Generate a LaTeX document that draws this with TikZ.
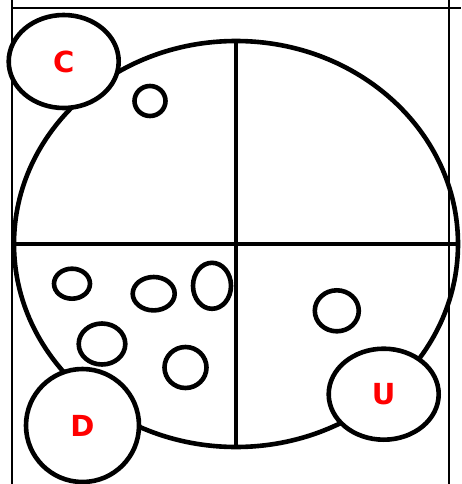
\documentclass[tikz,border=0pt]{standalone}
\usepackage{fontspec}
\newfontfamily\zonefont{DejaVu Sans}
\usepackage{tikz}
\usetikzlibrary{shapes.geometric}

\begin{document}
\begin{tikzpicture}[x=1pt,y=-1pt,
    heavy/.style={line width=4.6pt},
    frame/.style={line width=2pt},
    zone/.style={heavy, draw, fill=white, ellipse, inner sep=0pt,
      text=red, font=\zonefont\bfseries\fontsize{29}{29}\selectfont}]
  \useasboundingbox (0,0) rectangle (461,484);
  % Frame lines
  \draw[frame] (11.5,0) -- (11.5,484);
  \draw[frame] (449,0) -- (449,484);
  \draw[frame] (11.5,8.5) -- (461,8.5);
  % Big circle with its four quarters
  \draw[heavy] (236,244) ellipse (222 and 203);
  \draw[heavy] (236,41) -- (236,447);
  \draw[heavy] (14,244) -- (458,244);
  % Small holes
  \foreach \x/\y/\rx/\ry in {150/101/15.5/15, 72/283.7/18/15, 153.7/293.7/21/16.7,
      212/285.8/19/23, 102/344/23.3/20.5, 185.5/367.5/21/20.5, 336.8/310.8/22/20.5} {
    \draw[heavy] (\x,\y) ellipse ({\rx} and {\ry});
  }
  % Labelled zones
  \node[zone, minimum width=110pt, minimum height=93pt] (zoneC) at (63.7,61.5) {C};
  \node[zone, minimum width=110pt, minimum height=91pt] (zoneU) at (383.7,394.2) {U};
  \node[zone, minimum width=113pt, minimum height=113pt] (zoneD) at (82.5,425.5) {D};
\end{tikzpicture}
\end{document}
